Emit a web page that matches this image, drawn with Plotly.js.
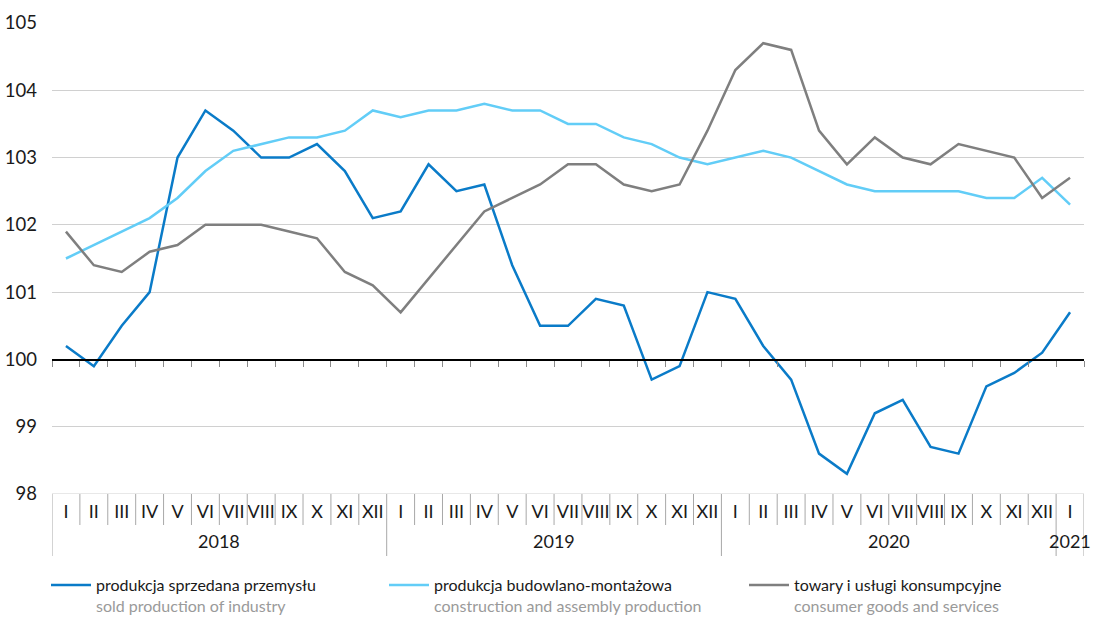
<!DOCTYPE html>
<html>
<head>
<meta charset="utf-8">
<script src="https://cdn.plot.ly/plotly-3.0.1.min.js"></script>
<style>html,body{margin:0;padding:0;background:#fff;}#chart{width:1093px;height:617px;}</style>
</head>
<body>
<div id="chart"></div>
<script>
const years = ['2018','2018','2018','2018','2018','2018','2018','2018','2018','2018','2018','2018',
               '2019','2019','2019','2019','2019','2019','2019','2019','2019','2019','2019','2019',
               '2020','2020','2020','2020','2020','2020','2020','2020','2020','2020','2020','2020',
               '2021'];
const months = ['I','II','III','IV','V','VI','VII','VIII','IX','X','XI','XII',
                'I','II','III','IV','V','VI','VII','VIII','IX','X','XI','XII',
                'I','II','III','IV','V','VI','VII','VIII','IX','X','XI','XII',
                'I'];
const industry = [100.2, 99.9, 100.5, 101.0, 103.0, 103.7, 103.4, 103.0, 103.0, 103.2, 102.8, 102.1,
                  102.2, 102.9, 102.5, 102.6, 101.4, 100.5, 100.5, 100.9, 100.8, 99.7, 99.9, 101.0,
                  100.9, 100.2, 99.7, 98.6, 98.3, 99.2, 99.4, 98.7, 98.6, 99.6, 99.8, 100.1,
                  100.7];
const construction = [101.5, 101.7, 101.9, 102.1, 102.4, 102.8, 103.1, 103.2, 103.3, 103.3, 103.4, 103.7,
                      103.6, 103.7, 103.7, 103.8, 103.7, 103.7, 103.5, 103.5, 103.3, 103.2, 103.0, 102.9,
                      103.0, 103.1, 103.0, 102.8, 102.6, 102.5, 102.5, 102.5, 102.5, 102.4, 102.4, 102.7,
                      102.3];
const consumer = [101.9, 101.4, 101.3, 101.6, 101.7, 102.0, 102.0, 102.0, 101.9, 101.8, 101.3, 101.1,
                  100.7, 101.2, 101.7, 102.2, 102.4, 102.6, 102.9, 102.9, 102.6, 102.5, 102.6, 103.4,
                  104.3, 104.7, 104.6, 103.4, 102.9, 103.3, 103.0, 102.9, 103.2, 103.1, 103.0, 102.4,
                  102.7];
const names = [
  'produkcja sprzedana przemysłu<br><span style="color:#9a9a9a">sold production of industry</span>',
  'produkcja budowlano-montażowa<br><span style="color:#9a9a9a">construction and assembly production</span>',
  'towary i usługi konsumpcyjne<br><span style="color:#9a9a9a">consumer goods and services</span>'
];
const colors = ['#0a7bc8', '#62cdf7', '#7f7f7f'];
const yTicks = [98, 99, 100, 101, 102, 103, 104, 105];
const yMin = 98, yMax = 105, baseline = 100;

const n = months.length;
const idx = months.map((m, i) => i);
const bounds = [];
for (let i = 0; i <= n; i++) bounds.push(i - 0.5);

const font = "Lato, 'Noto Sans', sans-serif";

const series = [industry, construction, consumer];
const legends = ['legend', 'legend2', 'legend3'];
const traces = series.map((s, k) => ({
  type: 'scatter', mode: 'lines',
  x: idx, y: s, name: names[k],
  line: {color: colors[k], width: 2.5},
  legend: legends[k],
  hoverinfo: 'skip'
}));
traces.push({
  type: 'scatter', mode: 'markers', x: [idx[0]], y: [baseline],
  xaxis: 'x2', yaxis: 'y', marker: {opacity: 0}, showlegend: false, hoverinfo: 'skip'
});

const plotL = 52, plotR = 1084, plotT = 23, plotB = 494;
const W = 1093, H = 617;
const plotH = plotB - plotT;
const pyToPaper = py => -(py - plotB) / plotH;

const shapes = [];
// bottom gridline at axis minimum
shapes.push({
  type: 'line', xref: 'paper', yref: 'y', x0: 0, x1: 1, y0: yMin, y1: yMin,
  line: {color: '#d0d0d0', width: 1}, layer: 'below'
});
// separators below the plot
bounds.forEach((b, i) => {
  const isYear = (i === 0 || i === n || years[i] !== years[i - 1]);
  shapes.push({
    type: 'line', xref: 'x', yref: 'paper',
    x0: b, x1: b, y0: 0, y1: pyToPaper(isYear ? 556 : 525),
    line: {color: '#a8a8a8', width: 1}
  });
});

const uniqYears = [...new Set(years)];
const annotations = uniqYears.map(yv => {
  const ii = idx.filter(i => years[i] === yv);
  const mid = (ii[0] + ii[ii.length - 1]) / 2;
  return {
    x: mid, xref: 'x', y: pyToPaper(541), yref: 'paper', text: yv, showarrow: false,
    xanchor: 'center', yanchor: 'middle', font: {family: font, size: 18, color: '#1a1a1a'}
  };
});

const legendCommon = {
  orientation: 'h', yanchor: 'top', xanchor: 'left', valign: 'top',
  xref: 'container', yref: 'container',
  font: {family: font, size: 16, color: '#1a1a1a'},
  bgcolor: 'rgba(0,0,0,0)', itemwidth: 40, tracegroupgap: 0
};
const legY = 1 - 568 / H;

const layout = {
  width: W, height: H,
  margin: {l: plotL, r: W - plotR, t: plotT, b: H - plotB, autoexpand: false},
  paper_bgcolor: '#fff', plot_bgcolor: '#fff',
  showlegend: true,
  font: {family: font, color: '#1a1a1a'},
  yaxis: {
    range: [yMin, yMax], tickvals: yTicks, showgrid: true, gridcolor: '#d0d0d0', gridwidth: 1,
    zeroline: false, showline: false, ticks: '', automargin: false,
    tickfont: {family: font, size: 18.5, color: '#1a1a1a'},
    ticklabelstandoff: 14
  },
  xaxis: {
    range: [-0.5, n - 0.5], tickvals: idx, ticktext: months, tickangle: 0,
    showgrid: false, zeroline: false, showline: false, automargin: false, ticks: '',
    tickfont: {family: font, size: 18, color: '#1a1a1a'},
    ticklabelstandoff: 5
  },
  xaxis2: {
    overlaying: 'x', anchor: 'free', position: (baseline - yMin) / (yMax - yMin),
    range: [-0.5, n - 0.5], tickvals: bounds, showticklabels: false, automargin: false,
    ticks: 'outside', ticklen: 6, tickcolor: '#8a8a8a', tickwidth: 1,
    showline: true, linecolor: '#000', linewidth: 1.3, showgrid: false, zeroline: false
  },
  shapes: shapes,
  annotations: annotations,
  legend: Object.assign({}, legendCommon, {x: 46 / W, y: legY}),
  legend2: Object.assign({}, legendCommon, {x: 384 / W, y: legY}),
  legend3: Object.assign({}, legendCommon, {x: 744 / W, y: legY})
};

Plotly.newPlot('chart', traces, layout, {displayModeBar: false, staticPlot: true});
</script>
</body>
</html>
